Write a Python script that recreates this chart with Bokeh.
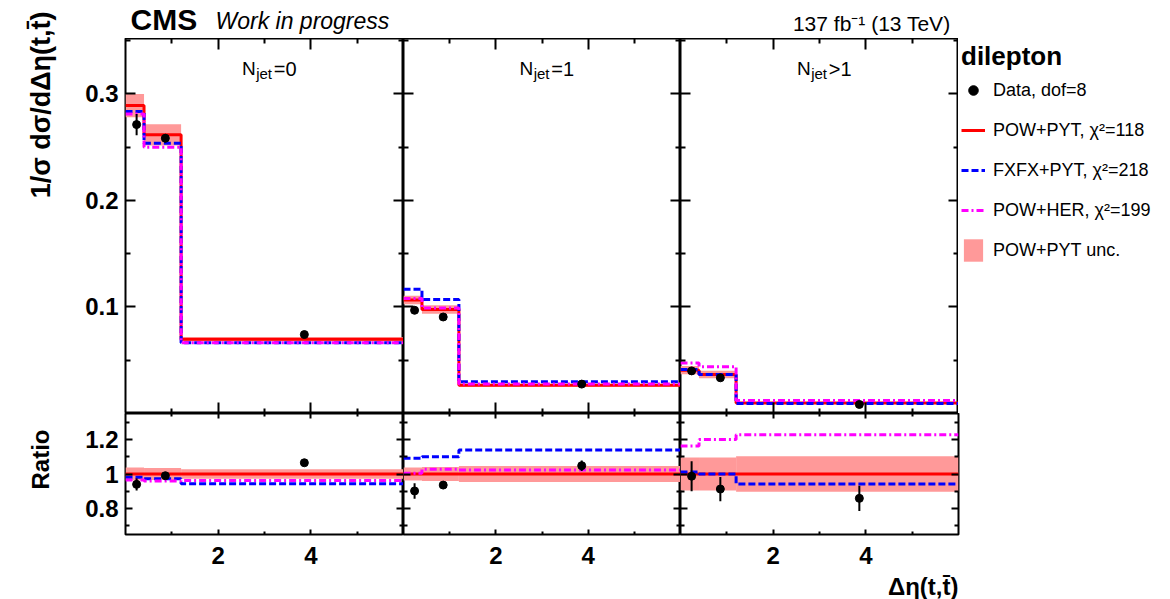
import numpy as np
from bokeh.plotting import figure
from bokeh.models import Range1d, LinearAxis, FixedTicker, Label, Legend, LegendItem
from bokeh.layouts import row, column
from bokeh.embed import file_html
from bokeh.resources import INLINE

FONT = "Liberation Sans"

# ---------------- data ----------------
EDGES = [0.0, 0.4, 1.2, 6.0]
DATA_X = [0.24, 0.86, 3.86]
NJET_SUFFIX = ["=0", "=1", ">1"]

data_val = [[0.2712, 0.2584, 0.0741], [0.0969, 0.0906, 0.0276], [0.0400, 0.0335, 0.0085]]
data_err = [[0.0100, 0.0040, 0.0012], [0.0035, 0.0022, 0.0008], [0.0035, 0.0025, 0.0007]]
powpyt = [[0.2890, 0.2616, 0.0697], [0.1065, 0.0976, 0.0266], [0.0407, 0.0367, 0.0099]]
powpyt_unc = [[0.0110, 0.0100, 0.0019], [0.0040, 0.0040, 0.0012], [0.0039, 0.0035, 0.0010]]
fxfx = [[0.2834, 0.2537, 0.0663], [0.1166, 0.1069, 0.0297], [0.0412, 0.0367, 0.0093]]
powher = [[0.2812, 0.2500, 0.0665], [0.1080, 0.0991, 0.0276], [0.0473, 0.0440, 0.0121]]

r_data = [[0.940, 0.990, 1.065], [0.902, 0.936, 1.048], [0.987, 0.913, 0.859]]
r_data_err = [[0.036, 0.015, 0.017], [0.045, 0.020, 0.030], [0.087, 0.070, 0.073]]
r_powpyt = [[1.0, 1.0, 1.0], [1.0, 1.0, 1.0], [1.0, 1.0, 1.0]]
r_unc = [[0.037, 0.035, 0.028], [0.038, 0.040, 0.047], [0.095, 0.095, 0.103]]
r_fxfx = [[0.981, 0.973, 0.944], [1.091, 1.100, 1.139], [1.012, 1.000, 0.942]]
r_powher = [[0.965, 0.960, 0.963], [1.005, 1.027, 1.023], [1.162, 1.200, 1.227]]

LEGEND_TITLE = "dilepton"
LEGEND_LABELS = ["Data, dof=8", "POW+PYT, χ²=118", "FXFX+PYT, χ²=218",
                 "POW+HER, χ²=199", "POW+PYT unc."]

X_MAJOR = [2, 4]
X_MINOR = [1, 3, 5]
Y_MAIN_MAJOR = [0.1, 0.2, 0.3]
Y_MAIN_MINOR = [0.05, 0.15, 0.25, 0.35]
Y_RATIO_MAJOR = [0.8, 1.0, 1.2]
Y_RATIO_MINOR = [0.7, 0.9, 1.1, 1.3]

MAIN_YR = (0.0, 0.352)
RATIO_YR = (0.65, 1.35)

RED = "#ff0000"
BLUE = "#0000ff"
MAGENTA = "#ff00ff"
BAND = "#ff9999"
LINE_STYLES = [dict(line_color=RED, line_width=3),
               dict(line_color=BLUE, line_width=3, line_dash="7 3"),
               dict(line_color=MAGENTA, line_width=3, line_dash="7 3 2 3")]

# ---------------- layout sizes (px) ----------------
STRIP_L = 70      # left strip holding the rotated y titles
LB = 55           # room for the y tick labels
FW = [278, 277, 278]
LEG_W = 212
TOP_H = 38
H_MAIN = 375
H_RATIO = 121
BB = 40
XT_H = 25
TOTAL_W = STRIP_L + LB + sum(FW) + LEG_W
TOTAL_H = TOP_H + H_MAIN + H_RATIO + BB + XT_H
PX_MAIN = (MAIN_YR[1] - MAIN_YR[0]) / H_MAIN   # data units per pixel in the main panels


def make_axis(ticks, minor, tick_in, minor_in, labels=False, standoff=0, overrides=None):
    ax = LinearAxis(ticker=FixedTicker(ticks=list(ticks), minor_ticks=list(minor)))
    ax.axis_line_color = None
    ax.major_tick_in = tick_in
    ax.major_tick_out = 0
    ax.minor_tick_in = minor_in
    ax.minor_tick_out = 0
    ax.major_tick_line_color = "black"
    ax.major_tick_line_width = 2
    ax.minor_tick_line_color = "black"
    ax.minor_tick_line_width = 2
    if labels:
        ax.major_label_text_font = FONT
        ax.major_label_text_font_size = "24px"
        ax.major_label_text_font_style = "bold"
        ax.major_label_text_color = "black"
        ax.major_label_standoff = standoff
        if overrides:
            ax.major_label_overrides = overrides
    else:
        ax.major_label_text_font_size = "0px"
        ax.major_label_text_color = None
        ax.major_label_standoff = 0
    return ax


def make_fig(i, yr, main):
    left = LB if i == 0 else 0
    right = LEG_W if (i == 2 and not main) else 0
    bottom = 0 if main else BB
    fh = H_MAIN if main else H_RATIO
    p = figure(width=left + FW[i] + right, height=fh + bottom,
               x_range=Range1d(0, 6), y_range=Range1d(*yr),
               x_axis_type=None, y_axis_type=None, tools="",
               toolbar_location=None, output_backend="svg",
               min_border_left=left, min_border_right=right,
               min_border_top=0, min_border_bottom=bottom)
    p.outline_line_color = "black"
    p.outline_line_width = 2
    p.background_fill_color = "white"
    p.border_fill_color = "white"
    if main:
        xin, xmin_, yin, ymin_ = 11, 5, 10, 5
        yt, ym = Y_MAIN_MAJOR, Y_MAIN_MINOR
        ov = None
    else:
        xin, xmin_, yin, ymin_ = 5, 3, 7, 4
        yt, ym = Y_RATIO_MAJOR, Y_RATIO_MINOR
        ov = {1: "1"}
    p.add_layout(make_axis(X_MAJOR, X_MINOR, xin, xmin_, labels=not main, standoff=12), "below")
    p.add_layout(make_axis(X_MAJOR, X_MINOR, xin, xmin_), "above")
    p.add_layout(make_axis(yt, ym, yin, ymin_, labels=(i == 0), standoff=7, overrides=ov), "left")
    p.add_layout(make_axis(yt, ym, yin, ymin_), "right")
    return p


def strip(width, height, xr=None, yr=None):
    p = figure(width=width, height=height,
               x_range=Range1d(*(xr or (0, width))), y_range=Range1d(*(yr or (0, height))),
               x_axis_type=None, y_axis_type=None, tools="", toolbar_location=None,
               output_backend="svg", min_border=0)
    p.outline_line_color = None
    p.background_fill_color = "white"
    p.border_fill_color = "white"
    return p


def draw(p, dv, de, nom, unc, fx, ph, with_err=True):
    lo = [v - u for v, u in zip(nom, unc)]
    hi = [v + u for v, u in zip(nom, unc)]
    band = p.quad(left=EDGES[:-1], right=EDGES[1:], bottom=lo, top=hi,
                  fill_color=BAND, line_color=None)
    lines = [p.step(x=EDGES, y=list(s) + [s[-1]], mode="after", **st)
             for s, st in zip([nom, fx, ph], LINE_STYLES)]
    if with_err:
        p.segment(x0=DATA_X, x1=DATA_X, y0=[v - e for v, e in zip(dv, de)],
                  y1=[v + e for v, e in zip(dv, de)], line_color="black", line_width=2)
    pts = p.scatter(x=DATA_X, y=dv, size=8, fill_color="black", line_color="black")
    return [pts] + lines + [band]


def lab(p, x, y, text, size, style="normal", align="left", baseline="middle", angle=0.0):
    p.add_layout(Label(x=x, y=y, text=text, text_font=FONT, text_font_size=size,
                       text_font_style=style, text_align=align, text_baseline=baseline,
                       angle=angle, text_color="black"))


mains, ratios = [], []
for i in range(3):
    m = make_fig(i, MAIN_YR, True)
    r = make_fig(i, RATIO_YR, False)
    draw(m, data_val[i], data_err[i], powpyt[i], powpyt_unc[i], fxfx[i], powher[i])
    draw(r, r_data[i], r_data_err[i], r_powpyt[i], r_unc[i], r_fxfx[i], r_powher[i])
    ax0 = 2.81
    yc = MAIN_YR[1] - 30 * PX_MAIN          # vertical centre of the N_jet label
    lab(m, ax0, yc, "N", "19px", align="right")
    lab(m, ax0 + 0.01, yc - 5 * PX_MAIN, "jet", "15px", align="left")
    lab(m, ax0 + 0.39, yc, NJET_SUFFIX[i], "20px", align="left")
    mains.append(m)
    ratios.append(r)

# legend panel: the panel-3 series drawn again, outside this panel's visible ranges,
# so that the legend can show their glyphs
lf = strip(LEG_W, H_MAIN, xr=(-20, -19), yr=(-20, -19))
leg_r = draw(lf, data_val[2], data_err[2], powpyt[2], powpyt_unc[2], fxfx[2], powher[2],
             with_err=False)
legend = Legend(items=[LegendItem(label=t, renderers=[g]) for t, g in zip(LEGEND_LABELS, leg_r)],
                location="top_left", title=LEGEND_TITLE)
legend.title_text_font = FONT
legend.title_text_font_size = "26px"
legend.title_text_font_style = "bold"
legend.title_text_color = "black"
legend.title_standoff = 4
legend.label_text_font = FONT
legend.label_text_font_size = "18px"
legend.label_text_color = "black"
legend.glyph_width = 24
legend.glyph_height = 28
legend.spacing = 12
legend.padding = 8
legend.margin = 3
legend.label_standoff = 8
legend.border_line_color = None
legend.background_fill_alpha = 0
lf.add_layout(legend)

# left strip with the rotated axis titles
ls = strip(STRIP_L, TOTAL_H)
lab(ls, 40, TOTAL_H - 11, "1/σ dσ/dΔη(t,t̄)", "27px", style="bold", align="right",
    angle=np.pi / 2)
lab(ls, 40, TOTAL_H - 459, "Ratio", "24px", style="bold", align="center", angle=np.pi / 2)

# top strip
ts = strip(TOTAL_W - STRIP_L, TOP_H)
lab(ts, 60, TOP_H - 18.5, "CMS", "30px", style="bold")
lab(ts, 145, TOP_H - 20.5, "Work in progress", "23px", style="italic")
lab(ts, 880, TOP_H - 22.5, "137 fb⁻¹ (13 TeV)", "21px", align="right")

# bottom strip with the x title
xs = strip(TOTAL_W - STRIP_L, XT_H)
lab(xs, 888, 13, "Δη(t,t̄)", "24px", style="bold", align="right")

layout = row(ls, column(ts, row(*mains, lf), row(*ratios), xs))

with open("out.html", "w") as f:
    f.write(file_html(layout, INLINE))
